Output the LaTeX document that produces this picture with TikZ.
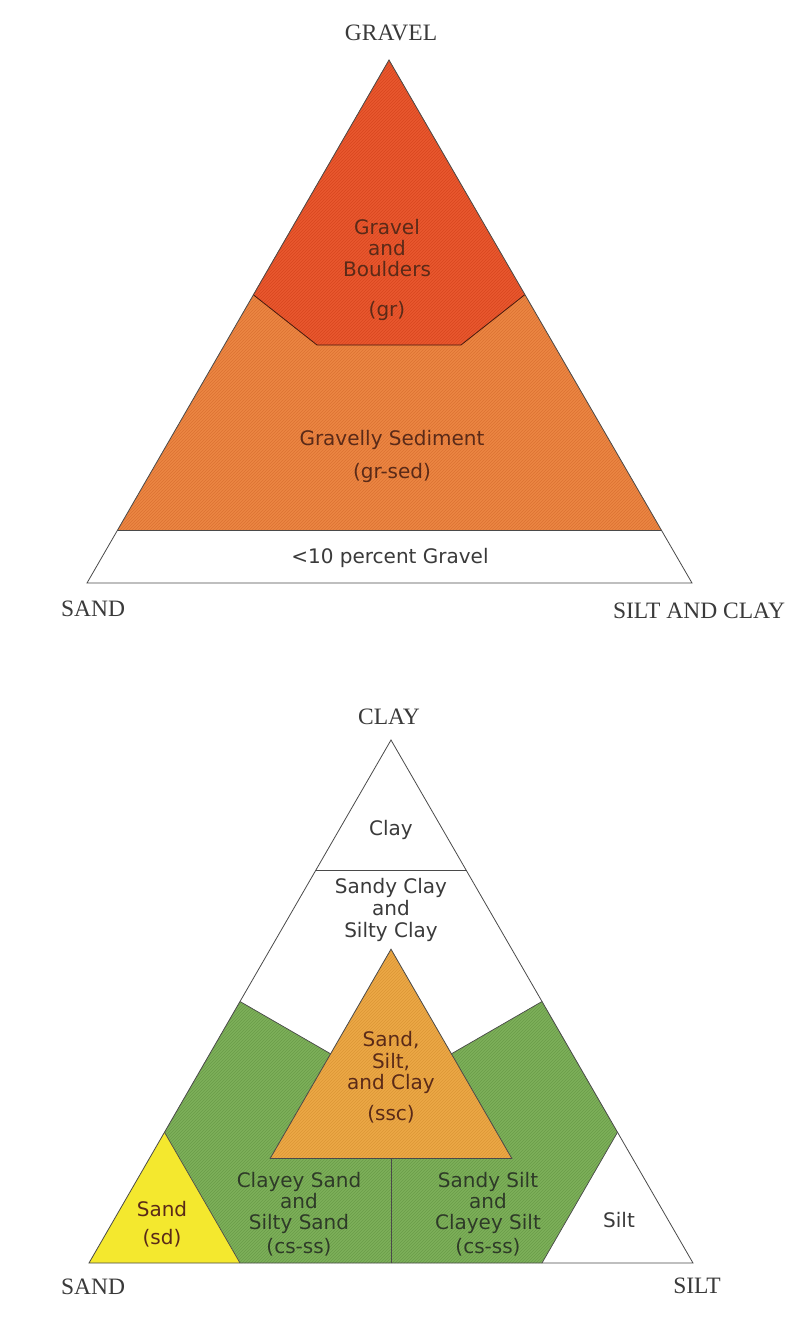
\documentclass[tikz,border=0pt]{standalone}
\usepackage{fontspec}
\setmainfont{Liberation Serif}
\newfontfamily\labfont{DejaVu Sans}
\usetikzlibrary{patterns}
\definecolor{gravelc}{HTML}{E9582F}
\definecolor{gravelp}{HTML}{D8461F}
\definecolor{gsedc}{HTML}{EC8643}
\definecolor{gsedp}{HTML}{DC7232}
\definecolor{greenc}{HTML}{7DB05A}
\definecolor{greenp}{HTML}{6A9C48}
\definecolor{sscc}{HTML}{ECA846}
\definecolor{sscp}{HTML}{DC9636}
\definecolor{sandc}{HTML}{F4E82E}
\definecolor{edgec}{HTML}{4A4A4A}
\definecolor{darktext}{HTML}{3A3A3A}
\definecolor{browntext}{HTML}{5A2A18}
\definecolor{greentext}{HTML}{2E3A28}
\begin{document}
\begin{tikzpicture}[x=1pt,y=-1pt,
  corner/.style={font=\fontsize{23.5}{26}\selectfont, text=darktext, inner sep=0pt},
  region/.style={font=\labfont\fontsize{20}{21}\selectfont, align=center, inner sep=0pt},
  edge/.style={draw=edgec, line width=0.8pt, line join=miter},
  thin/.style={draw=edgec, line width=0.7pt}]
\useasboundingbox (0,0) rectangle (809,1319);
\fill[white] (0,0) rectangle (809,1319);

% ---------- top triangle ----------
\coordinate (G) at (389,60);
\coordinate (A) at (87,583);
\coordinate (B) at (692,583);
\coordinate (L1) at (117.25,530.7);
\coordinate (R1) at (661.75,530.7);
\coordinate (P1) at (253.2,294.7);
\coordinate (P2) at (317,345);
\coordinate (P3) at (461,345);
\coordinate (P4) at (524.8,294.7);

\fill[gsedc] (G) -- (L1) -- (R1) -- cycle;
\fill[pattern=north east lines, pattern color=gsedp] (G) -- (L1) -- (R1) -- cycle;
\fill[gravelc] (G) -- (P1) -- (P2) -- (P3) -- (P4) -- cycle;
\fill[pattern=north east lines, pattern color=gravelp] (G) -- (P1) -- (P2) -- (P3) -- (P4) -- cycle;
\draw[draw=black!70!gravelc, line width=0.8pt] (P1) -- (P2) -- (P3) -- (P4);
\draw[thin] (L1) -- (R1);
\draw[edge] (G) -- (A) -- (B) -- cycle;

\node[corner] (lgravel) at (391,33) {GRAVEL};
\node[corner] (lsand1) at (93,609) {SAND};
\node[corner] (lsiltclay) at (699,611) {SILT AND CLAY};

\node[region, text=browntext] (tgr) at (387,270) {Gravel\\and\\Boulders\\[19pt](gr)};
\node[region, text=browntext] (tgs) at (392,456) {Gravelly Sediment\\[12pt](gr-sed)};
\node[region, text=darktext] (tlt) at (390,558) {<10 percent Gravel};

% ---------- bottom triangle ----------
\coordinate (C) at (391,740);
\coordinate (S) at (89,1263);
\coordinate (T) at (693,1263);
\coordinate (K1) at (315.5,870.75);
\coordinate (K2) at (466.5,870.75);
\coordinate (Q1) at (240,1001.5);
\coordinate (Q2) at (330.6,1053.8);
\coordinate (Q3) at (451.4,1053.8);
\coordinate (Q4) at (542,1001.5);
\coordinate (W1) at (164.5,1132.25);
\coordinate (W2) at (240,1263);
\coordinate (V1) at (617.5,1132.25);
\coordinate (V2) at (542,1263);
\coordinate (X1) at (391,949.2);
\coordinate (X2) at (270.2,1158.4);
\coordinate (X3) at (511.8,1158.4);
\coordinate (D1) at (391,1158.4);
\coordinate (D2) at (391,1263);

\fill[greenc] (Q1) -- (Q2) -- (Q3) -- (Q4) -- (V1) -- (V2) -- (W2) -- (W1) -- cycle;
\fill[pattern=north east lines, pattern color=greenp] (Q1) -- (Q2) -- (Q3) -- (Q4) -- (V1) -- (V2) -- (W2) -- (W1) -- cycle;
\fill[sandc] (S) -- (W1) -- (W2) -- cycle;
\fill[sscc] (X1) -- (X2) -- (X3) -- cycle;
\fill[pattern=north east lines, pattern color=sscp] (X1) -- (X2) -- (X3) -- cycle;

\draw[thin] (K1) -- (K2);
\draw[thin] (Q1) -- (Q2);
\draw[thin] (Q3) -- (Q4);
\draw[thin] (W1) -- (W2);
\draw[thin] (V1) -- (V2);
\draw[thin] (D1) -- (D2);
\draw[edge] (X1) -- (X2) -- (X3) -- cycle;
\draw[edge] (C) -- (S) -- (T) -- cycle;

\node[corner] (lclay) at (389,717) {CLAY};
\node[corner] (lsand2) at (93,1287) {SAND};
\node[corner] (lsilt) at (697,1286) {SILT};

\node[region, text=darktext] (tclay) at (391,830) {Clay};
\node[region, text=darktext, font=\labfont\fontsize{20}{22}\selectfont] (tsc) at (391,910) {Sandy Clay\\and\\Silty Clay};
\node[region, text=browntext, font=\labfont\fontsize{20}{21.5}\selectfont] (tssc) at (391,1077) {Sand,\\Silt,\\and Clay\\[9pt](ssc)};
\node[region, text=greentext] (tcs) at (299,1214) {Clayey Sand\\and\\Silty Sand\\[3pt](cs-ss)};
\node[region, text=greentext] (tss) at (488,1214) {Sandy Silt\\and\\Clayey Silt\\[3pt](cs-ss)};
\node[region, text=browntext] (tsd) at (162,1224) {Sand\\[7pt](sd)};
\node[region, text=darktext] (tsilt) at (619,1220) {Silt};
\end{tikzpicture}
\end{document}
